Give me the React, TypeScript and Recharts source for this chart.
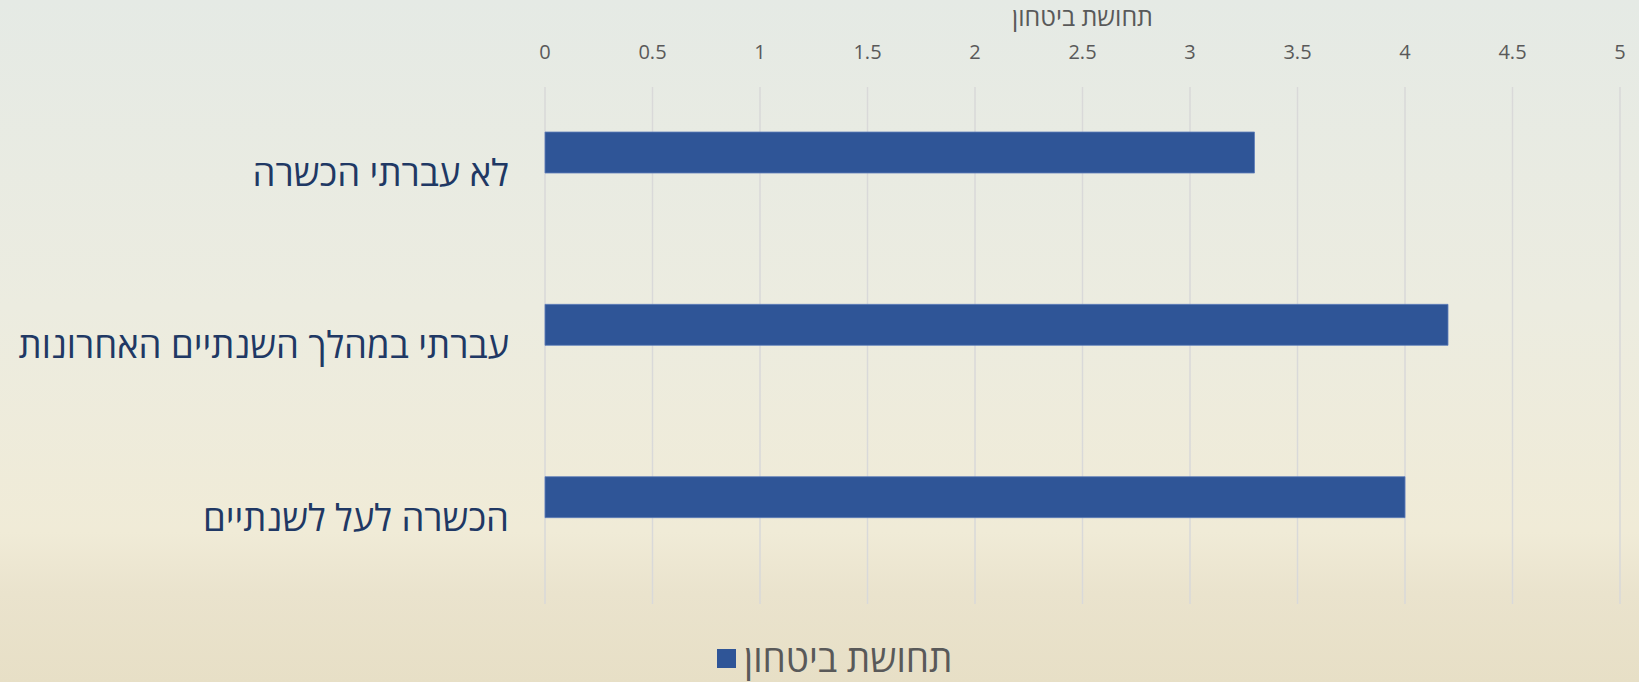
import {
  BarChart,
  Bar,
  XAxis,
  YAxis,
  CartesianGrid,
  Legend,
  Label,
} from "recharts";

const categories = ["לא עברתי הכשרה", "עברתי במהלך השנתיים האחרונות", "הכשרה לעל לשנתיים"];
const confidence = [3.3, 4.2, 4.0];
// empty second series, keeps the bars off-centre in each band like the original
const spacer = [null, null, null];
const xTicks = [0, 0.5, 1, 1.5, 2, 2.5, 3, 3.5, 4, 4.5, 5];
const seriesName = "תחושת ביטחון";

const FONT = "'Open Sans', 'DejaVu Sans', sans-serif";
const BLUE = "#2F5597";

const data = categories.map((name, i) => ({
  name,
  value: confidence[i],
  spacer: spacer[i],
}));

function LegendBox() {
  return (
    <div
      style={{
        display: "flex",
        alignItems: "center",
        fontFamily: FONT,
        fontSize: 37,
        color: "#595959",
        lineHeight: "44px",
      }}
    >
      <span style={{ width: 19, height: 19, background: BLUE, display: "inline-block", marginRight: 8 }} />
      <span style={{ direction: "rtl" }}>{seriesName}</span>
    </div>
  );
}

export default function App() {
  return (
    <div
      style={{
        position: "relative",
        width: 1639,
        height: 682,
        background:
          "linear-gradient(180deg, #E5EAE5 0%, #ECECE0 45%, #F0EBD7 78%, #EAE3CD 87%, #E7DFC6 100%)",
      }}
    >
      <style>{`body{margin:0}`}</style>
      <BarChart
        width={1639}
        height={682}
        data={data}
        layout="vertical"
        margin={{ top: 30, right: 19, bottom: 78, left: 0 }}
        barGap={0}
      >
        <CartesianGrid horizontal={false} stroke="#D9D9D9" strokeWidth={1.5} />
        <XAxis
          type="number"
          orientation="top"
          domain={[0, 5]}
          ticks={xTicks}
          height={57}
          axisLine={false}
          tickLine={false}
          tickMargin={22}
          tick={{ fill: "#595959", fontSize: 20, fontFamily: FONT }}
        >
          <Label
            value={seriesName}
            position="top"
            offset={4}
            style={{ fill: "#595959", fontSize: 25, fontFamily: FONT }}
          />
        </XAxis>
        <YAxis
          type="category"
          dataKey="name"
          width={545}
          axisLine={false}
          tickLine={false}
          tickMargin={30}
          tick={{ fill: "#203864", fontSize: 36.5, fontFamily: FONT }}
        />
        <Legend
          layout="vertical"
          verticalAlign="middle"
          align="center"
          wrapperStyle={{ top: 636, left: 717, right: "auto", width: 300 }}
          content={() => <LegendBox />}
        />
        <Bar dataKey="value" name={seriesName} fill={BLUE} stroke="#5F7FBA" strokeWidth={0.8} barSize={41} isAnimationActive={false} />
        <Bar dataKey="spacer" legendType="none" fill="none" barSize={41} isAnimationActive={false} />
      </BarChart>
    </div>
  );
}
